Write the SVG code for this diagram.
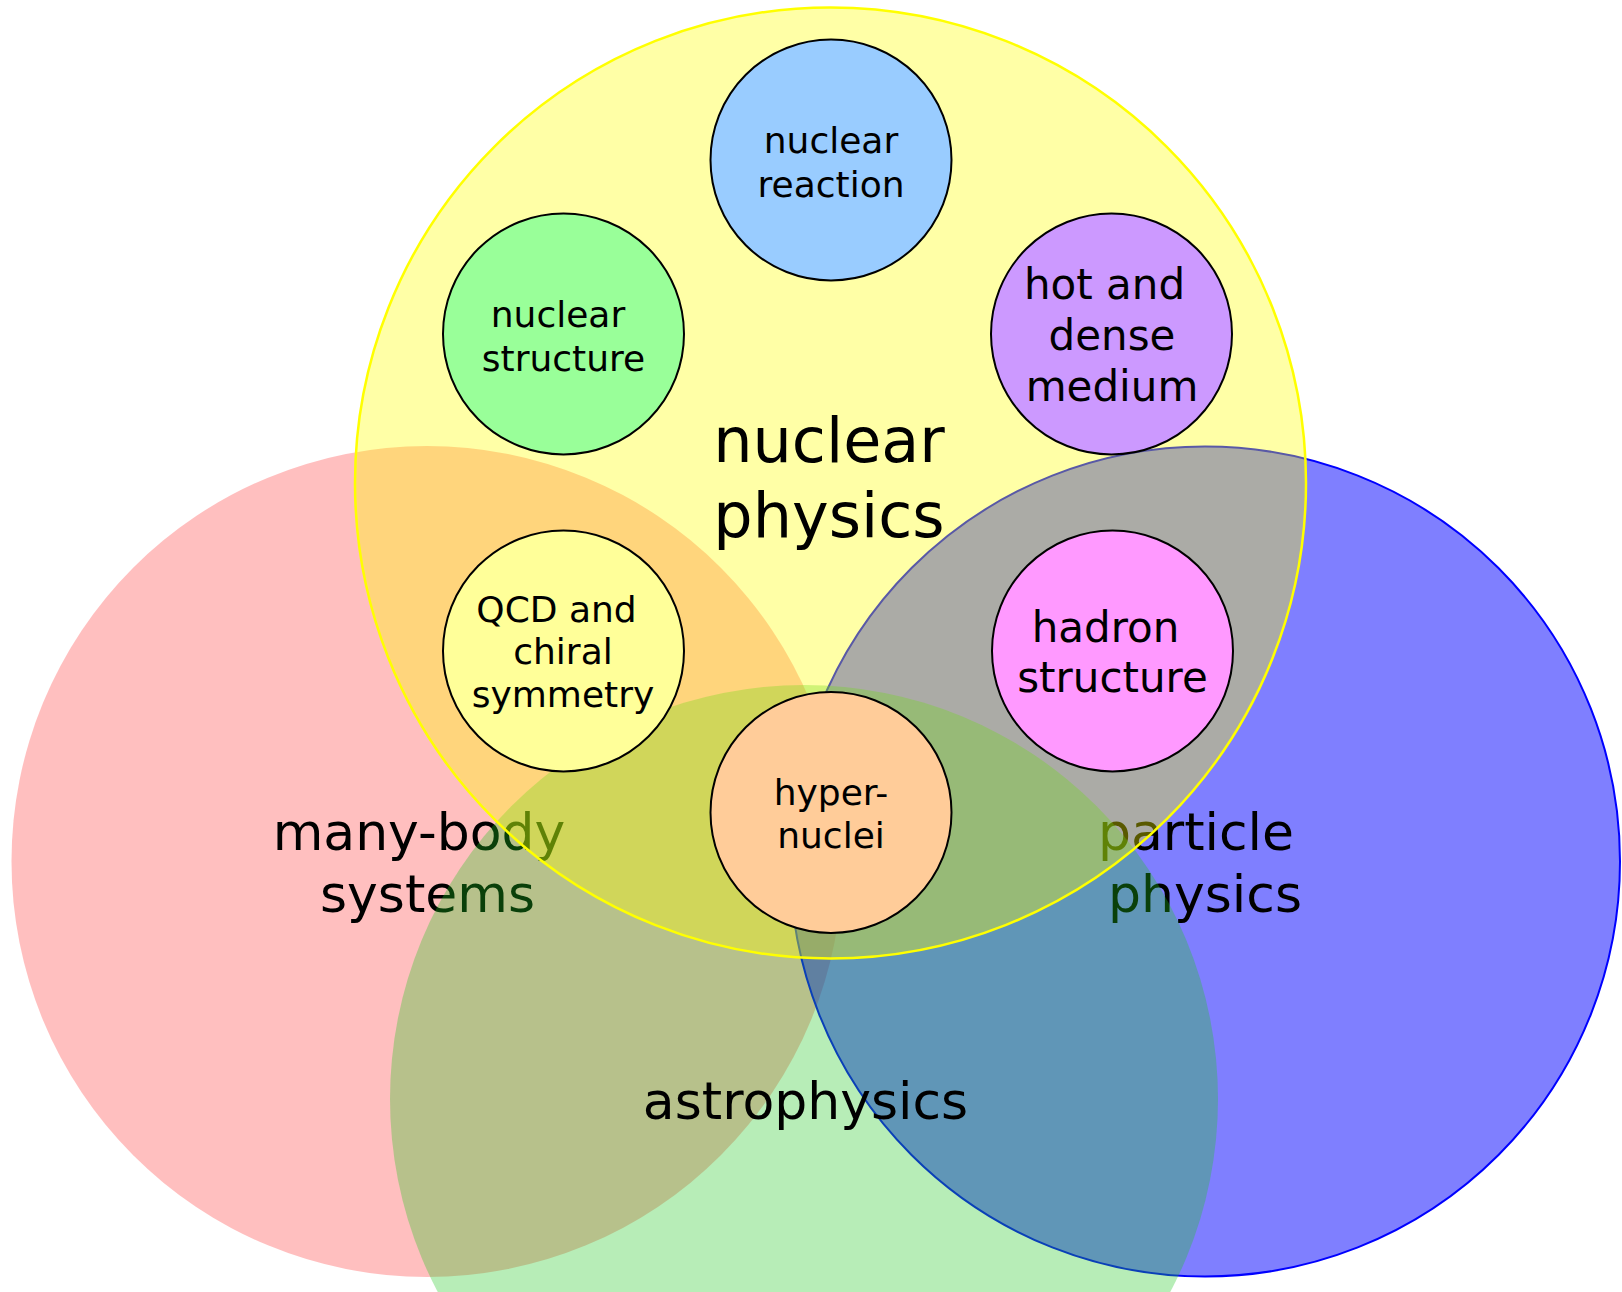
<svg xmlns="http://www.w3.org/2000/svg" width="1622" height="1292" viewBox="0 0 1622 1292">
<style>
text { font-family: "DejaVu Sans", Verdana, sans-serif; fill: #000; text-anchor: middle; }
.big { font-size: 52px; }
.huge { font-size: 62px; }
.s36 { font-size: 36px; }
.s42 { font-size: 42px; }
.node { stroke: #000; stroke-width: 2; }
</style>
<rect width="1622" height="1292" fill="#ffffff"/>
<g id="many-body-systems">
  <circle cx="427" cy="861.5" r="415.5" fill="#ff0000" fill-opacity="0.25"/>
  <text class="big" x="419" y="850">many-body</text>
  <text class="big" x="427.5" y="912">systems</text>
</g>
<g id="particle-physics">
  <circle cx="1205" cy="861.5" r="415" fill="#0000ff" fill-opacity="0.5" stroke="#0000ff" stroke-width="2"/>
  <text class="big" x="1196" y="850">particle</text>
  <text class="big" x="1205" y="912">physics</text>
</g>
<g id="astrophysics">
  <circle cx="804" cy="1099" r="414" fill="rgb(31,199,31)" fill-opacity="0.32"/>
  <text class="big" x="805.5" y="1119">astrophysics</text>
</g>
<g id="nuclear-physics">
  <circle cx="830.5" cy="483" r="475.5" fill="#ffff00" fill-opacity="0.35" stroke="#ffff00" stroke-width="2.5"/>
  <text class="huge" x="829" y="462">nuclear</text>
  <text class="huge" x="829" y="537">physics</text>
</g>
<g id="nuclear-reaction">
  <circle class="node" cx="831" cy="160" r="120.5" fill="#99ccff"/>
  <text class="s36" x="831" y="153">nuclear</text>
  <text class="s36" x="831" y="197">reaction</text>
</g>
<g id="nuclear-structure">
  <circle class="node" cx="563.5" cy="334" r="120.5" fill="#99ff99"/>
  <text class="s36" x="558" y="327">nuclear</text>
  <text class="s36" x="563.5" y="371">structure</text>
</g>
<g id="hot-and-dense-medium">
  <circle class="node" cx="1111.5" cy="334" r="120.5" fill="#cc99ff"/>
  <text class="s42" x="1104.5" y="299">hot and</text>
  <text class="s42" x="1112" y="350">dense</text>
  <text class="s42" x="1112" y="401">medium</text>
</g>
<g id="qcd-and-chiral-symmetry">
  <circle class="node" cx="563.5" cy="651" r="120.5" fill="#ffff99"/>
  <text class="s36" x="556.5" y="621.5">QCD and</text>
  <text class="s36" x="563" y="664">chiral</text>
  <text class="s36" x="563" y="707">symmetry</text>
</g>
<g id="hadron-structure">
  <circle class="node" cx="1112.5" cy="651" r="120.5" fill="#ff99ff"/>
  <text class="s42" x="1105.5" y="642">hadron</text>
  <text class="s42" x="1112.5" y="692">structure</text>
</g>
<g id="hyper-nuclei">
  <circle class="node" cx="831" cy="812.5" r="120.5" fill="#ffcc99"/>
  <text class="s36" x="831" y="805">hyper-</text>
  <text class="s36" x="831" y="848">nuclei</text>
</g>
<g id="connectors"></g>
</svg>
